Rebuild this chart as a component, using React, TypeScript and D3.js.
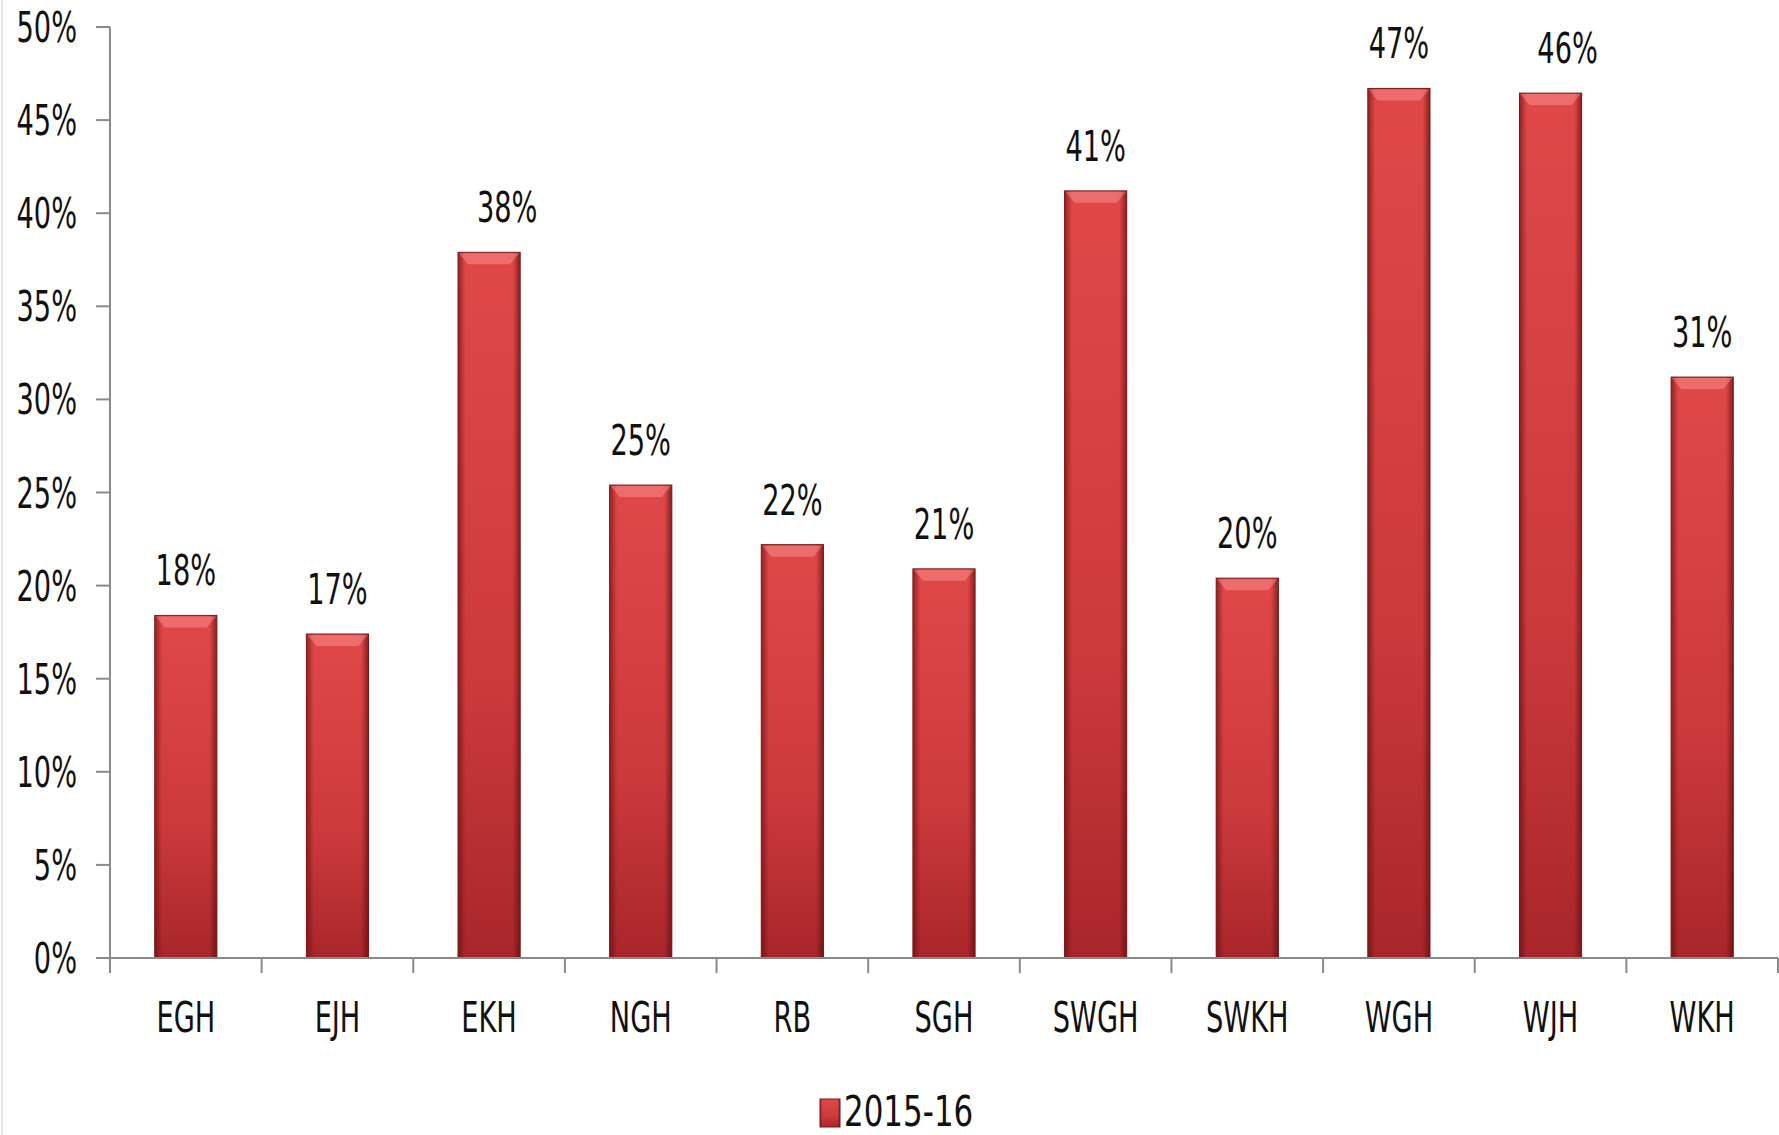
import React, { useEffect, useRef } from "react";
import * as d3 from "d3";

const categories = ["EGH", "EJH", "EKH", "NGH", "RB", "SGH", "SWGH", "SWKH", "WGH", "WJH", "WKH"];
const values2015 = [18.4, 17.4, 37.9, 25.4, 22.2, 20.9, 41.2, 20.4, 46.7, 46.45, 31.2];
const yTicks = [0, 5, 10, 15, 20, 25, 30, 35, 40, 45, 50];
const seriesName = "2015-16";

const W = 1779;
const H = 1135;
const FONT = "'Liberation Sans Narrow', 'DejaVu Sans Condensed', 'Liberation Sans', sans-serif";
const labelNudge: Record<string, number> = { EKH: 18, WJH: 17 };
const SX = 0.72;

export default function App() {
  const ref = useRef<SVGSVGElement>(null);

  useEffect(() => {
    const svg = d3.select(ref.current);
    svg.selectAll("*").remove();

    const left = 110, right = 1778, top = 27, bottom = 958;
    const x = d3.scaleBand<string>().domain(categories).range([left, right]).paddingInner(0.59).paddingOuter(0.295);
    const y = d3.scaleLinear().domain([0, 50]).range([bottom, top]);

    const defs = svg.append("defs");
    const vg = defs.append("linearGradient").attr("id", "vg").attr("x1", 0).attr("y1", 0).attr("x2", 0).attr("y2", 1);
    vg.append("stop").attr("offset", "0%").attr("stop-color", "#e04848");
    vg.append("stop").attr("offset", "60%").attr("stop-color", "#cd3a3c");
    vg.append("stop").attr("offset", "100%").attr("stop-color", "#a8262a");
    const hg = defs.append("linearGradient").attr("id", "hg").attr("x1", 0).attr("y1", 0).attr("x2", 1).attr("y2", 0);
    hg.append("stop").attr("offset", "0%").attr("stop-color", "#5a0a0a").attr("stop-opacity", 0.6);
    hg.append("stop").attr("offset", "12%").attr("stop-color", "#5a0a0a").attr("stop-opacity", 0);
    hg.append("stop").attr("offset", "88%").attr("stop-color", "#5a0a0a").attr("stop-opacity", 0);
    hg.append("stop").attr("offset", "100%").attr("stop-color", "#5a0a0a").attr("stop-opacity", 0.65);

    // faint frame at left
    svg.append("line").attr("x1", 2).attr("x2", 2).attr("y1", 0).attr("y2", H).attr("stroke", "#e6e6e6").attr("stroke-width", 2);

    const data = categories.map((c, i) => ({ c, v: values2015[i] }));
    const bw = x.bandwidth();

    const g = svg.append("g");
    const bars = g.selectAll("g.bar").data(data).enter().append("g").attr("class", "bar");
    bars.append("rect")
      .attr("x", (d) => x(d.c)!)
      .attr("y", (d) => y(d.v))
      .attr("width", bw)
      .attr("height", (d) => bottom - y(d.v))
      .attr("fill", "url(#vg)");
    bars.append("rect")
      .attr("x", (d) => x(d.c)!)
      .attr("y", (d) => y(d.v))
      .attr("width", bw)
      .attr("height", (d) => bottom - y(d.v))
      .attr("fill", "url(#hg)")
      .attr("stroke", "#7a1a1a")
      .attr("stroke-width", 1);
    bars.append("polygon")
      .attr("points", (d) => {
        const x0 = x(d.c)!, x1 = x0 + bw, t = y(d.v);
        return `${x0 + 1},${t + 1} ${x1 - 1},${t + 1} ${x1 - 10},${t + 12} ${x0 + 10},${t + 12}`;
      })
      .attr("fill", "#ff9a9a")
      .attr("opacity", 0.45);

    // axes
    const axisColor = "#8a8a8a";
    svg.append("line").attr("x1", left).attr("x2", left).attr("y1", top).attr("y2", bottom + 15).attr("stroke", axisColor).attr("stroke-width", 2);
    svg.append("line").attr("x1", left - 14).attr("x2", right).attr("y1", bottom).attr("y2", bottom).attr("stroke", axisColor).attr("stroke-width", 2);
    yTicks.forEach((t) => {
      svg.append("line").attr("x1", left - 14).attr("x2", left).attr("y1", y(t)).attr("y2", y(t)).attr("stroke", axisColor).attr("stroke-width", 2);
      svg.append("text")
        .attr("transform", `translate(77,${y(t) + 15}) scale(${SX},1)`)
        .attr("text-anchor", "end")
        .attr("font-family", FONT)
        .attr("font-size", 42)
        .attr("fill", "#111")
        .text(`${t}%`);
    });
    categories.forEach((c, i) => {
      const bx = left + i * x.step();
      if (i > 0) svg.append("line").attr("x1", bx).attr("x2", bx).attr("y1", bottom).attr("y2", bottom + 15).attr("stroke", axisColor).attr("stroke-width", 2);
      svg.append("text")
        .attr("transform", `translate(${x(c)! + bw / 2},${1032}) scale(${SX},1)`)
        .attr("text-anchor", "middle")
        .attr("font-family", FONT)
        .attr("font-size", 42)
        .attr("fill", "#111")
        .text(c);
    });
    svg.append("line").attr("x1", right).attr("x2", right).attr("y1", bottom).attr("y2", bottom + 15).attr("stroke", axisColor).attr("stroke-width", 2);

    // value labels
    const fmt = (v: number) => `${Math.round(v)}%`;
    data.forEach((d) => {
      svg.append("text")
        .attr("transform", `translate(${x(d.c)! + bw / 2 + (labelNudge[d.c] || 0)},${y(d.v) - 30}) scale(${SX},1)`)
        .attr("text-anchor", "middle")
        .attr("font-family", FONT)
        .attr("font-size", 42)
        .attr("fill", "#111")
        .text(fmt(d.v));
    });

    // legend
    const lg = svg.append("g");
    lg.append("rect").attr("x", 820).attr("y", 1099).attr("width", 20).attr("height", 28).attr("fill", "url(#vg)");
    lg.append("rect").attr("x", 820).attr("y", 1099).attr("width", 20).attr("height", 28).attr("fill", "url(#hg)").attr("stroke", "#7a1a1a").attr("stroke-width", 1);
    lg.append("text")
      .attr("transform", `translate(844,1126) scale(0.8,1)`)
      .attr("font-family", FONT)
      .attr("font-size", 43)
      .attr("fill", "#111")
      .text(seriesName);
  }, []);

  return (
    <svg
      ref={ref}
      width={W}
      height={H}
      style={{ position: "absolute", left: 0, top: 0, display: "block", background: "#fff" }}
    />
  );
}
